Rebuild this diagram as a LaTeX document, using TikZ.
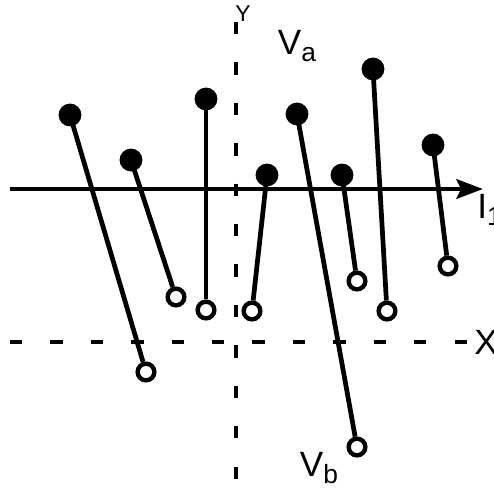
\documentclass[tikz,border=0pt]{standalone}
\usepackage{fontspec}
\setmainfont{Liberation Sans}
\usepackage{tikz}
\usetikzlibrary{arrows.meta, positioning, calc}
\usepackage{xcolor}
\newcommand{\sublow}[1]{\raisebox{-0.35ex}{\fontsize{15}{17}\selectfont #1}}

\begin{document}
\begin{tikzpicture}[x=0.02cm, y=-0.02cm,
  axis/.style={line width=2.7pt},
  guide/.style={line width=2.7pt, dash pattern=on 7pt off 16pt},
  pin/.style={line width=2.7pt},
  tipdot/.style={circle, fill=black, inner sep=0pt, minimum size=13pt},
  enddot/.style={circle, draw=black, fill=white, line width=2.5pt, inner sep=0pt, minimum size=9.5pt},
  lbl/.style={font=\fontsize{20}{22}\selectfont, inner sep=0pt}]
  \useasboundingbox (0,0) rectangle (494,491);
  % guide lines
  \coordinate (xl) at (10,342);
  \coordinate (xr) at (476,342);
  \coordinate (yt) at (236,22);
  \coordinate (yb) at (236,491);
  \draw[guide] (xl) -- (xr);
  \draw[guide] (yt) -- (yb);
  % main axis
  \coordinate (il) at (10,189);
  \coordinate (ir) at (483,189);
  \draw[axis, -{Stealth[length=15pt, width=11pt, inset=2.5pt]}] (il) -- (ir);
  % labels
  \node[font=\fontsize{13}{15}\selectfont, inner sep=0pt] (ylab) at (243,14) {Y};
  \node[lbl] (xlab) at (486,342) {X};
  \node[lbl, anchor=west] (ilab) at (477,210) {I\sublow{1}};
  \node[lbl] (valab) at (297,46) {V\sublow{a}};
  \node[lbl] (vblab) at (319,468) {V\sublow{b}};
  % pins: top (filled) -- bottom (open)
  \foreach \i/\ax/\ay/\bx/\by in {1/70/115/146/372, 2/131/160/176/297,
      3/206/99/206/310, 4/267/175/252/311, 5/297/114/357/447,
      6/342/175/357/281, 7/373/69/387/311, 8/433/145/448/266} {
    \node[tipdot] (a\i) at (\ax,\ay) {};
    \node[enddot] (b\i) at (\bx,\by) {};
    \draw[pin] (a\i.center) -- (b\i);
  }
\end{tikzpicture}
\end{document}
